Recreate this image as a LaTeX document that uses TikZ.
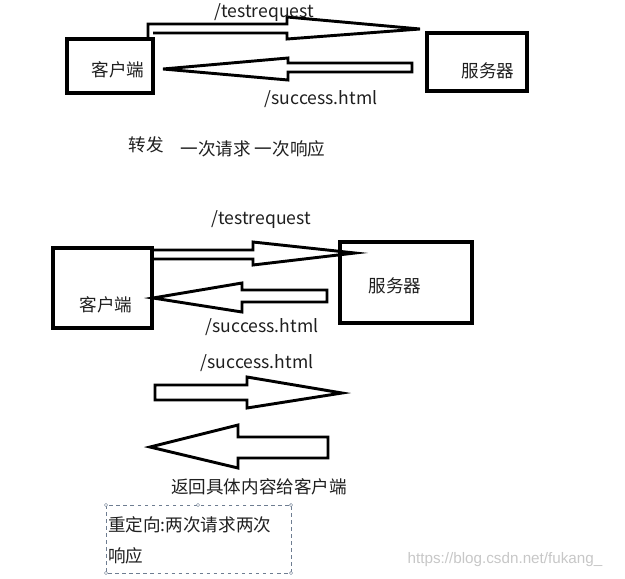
\documentclass[tikz,border=0pt]{standalone}
\usepackage{fontspec}
\setmainfont{Noto Sans CJK SC}
\newfontfamily\wmfont{Liberation Sans}
\definecolor{handlegray}{RGB}{110,125,145}
\begin{document}
\begin{tikzpicture}[x=0.03cm,y=-0.03cm,
  box/.style={draw,line width=2.7pt,inner sep=0pt},
  barrow/.style={draw,line width=2.5pt,line join=miter},
  lbl/.style={font=\fontsize{15}{18}\selectfont,text=black!88,inner sep=0pt},
  handle/.style={draw=handlegray,fill=white,line width=0.4pt}]
\useasboundingbox (0,0) rectangle (625,578);
% forwarding
\node[box,minimum width=2.58cm,minimum height=1.62cm] (client1) at (110,66) {};
\node[box,minimum width=3.0cm,minimum height=1.74cm] (server1) at (477,62) {};
\node[lbl] (ct1) at (118,70) {客户端};
\node[lbl] (st1) at (488,71) {服务器};
\draw[barrow] (153,33) -- (287,33) -- (287,39) -- (420,29) -- (287,17) -- (287,24) -- (148,24) -- (148,39);
\draw[barrow] (412,63) -- (288,63) -- (288,58) -- (163,69) -- (288,80) -- (288,72) -- (412,72) -- cycle;
\node[lbl] (req1) at (264,13) {/testrequest};
\node[lbl] (suc1) at (321,99) {/success.html};
\node[lbl] (fw) at (146,145) {转发};
\node[lbl] (fwnote) at (253,149) {一次请求 一次响应};
% redirect
\node[box,minimum width=2.97cm,minimum height=2.4cm] (client2) at (102.5,288) {};
\node[box,minimum width=3.96cm,minimum height=2.43cm] (server2) at (406,282.5) {};
\node[lbl] (ct2) at (106,305) {客户端};
\node[lbl] (st2) at (395,286) {服务器};
\draw[barrow] (152,250) -- (253,250) -- (253,242) -- (355,253) -- (253,265) -- (253,259) -- (152,259);
\draw[barrow] (327,290) -- (242,290) -- (242,283) -- (153,298) -- (242,312) -- (242,302) -- (327,302) -- cycle;
\node[lbl] (req2) at (261,220) {/testrequest};
\node[lbl] (suc2) at (262,327) {/success.html};
\node[lbl] (suc3) at (257,363) {/success.html};
\draw[barrow] (155,385) -- (247,385) -- (247,377) -- (342,393) -- (247,408) -- (247,400) -- (155,400) -- cycle;
\draw[barrow] (328,437) -- (238,437) -- (238,425) -- (150,447) -- (238,468) -- (238,458) -- (328,458) -- cycle;
\node[lbl] (back) at (259,487) {返回具体内容给客户端};
% note box
\draw[handlegray,dashed,line width=0.5pt] (106,505) rectangle (291,573);
\foreach \p in {(106,505),(198,505),(291,505),(106,573),(291,573)}{\draw[handle] \p circle (1.6);}
\node[lbl,anchor=west] (note1) at (108,525) {重定向:两次请求两次};
\node[lbl,anchor=west] (note2) at (108,556) {响应};
\node[font=\fontsize{13}{15}\selectfont\wmfont,text=black!22,inner sep=0pt] (wm) at (505,560) {https://blog.csdn.net/fukang\_};
\end{tikzpicture}
\end{document}
